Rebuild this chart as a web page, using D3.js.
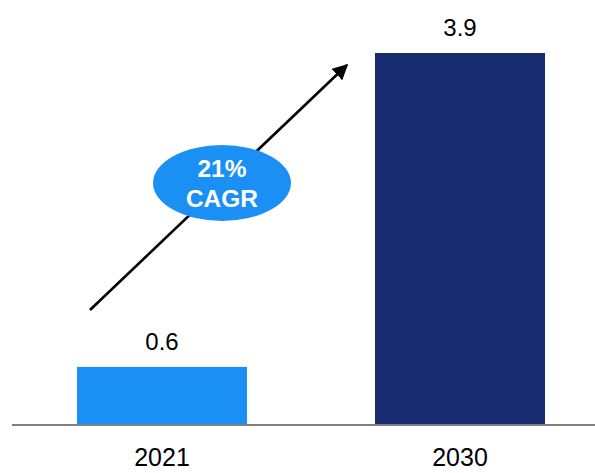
<!DOCTYPE html>
<html>
<head>
<meta charset="utf-8">
<script src="https://cdn.jsdelivr.net/npm/d3@7"></script>
<style>
  html, body { margin: 0; padding: 0; background: #fff; }
  svg { display: block; font-family: "Liberation Sans", Arial, sans-serif; }
</style>
</head>
<body>
<svg id="chart" width="595" height="473"></svg>
<script>
// Market size by year
const years = ["2021", "2030"];
const values = [0.6, 3.9];
const barColors = ["#1A90F4", "#172C70"];
const cagrLines = ["21%", "CAGR"];

const svg = d3.select("#chart");
const baseY = 424;

const x = d3.scaleBand()
  .domain(years)
  .range([13, 609])
  .paddingInner(0.4295)
  .paddingOuter(0.2148);

const y = d3.scaleLinear()
  .domain([0, 3.9])
  .range([baseY, 53]);

// bars
svg.selectAll("rect.bar")
  .data(years)
  .join("rect")
  .attr("class", "bar")
  .attr("x", d => x(d))
  .attr("width", x.bandwidth())
  .attr("y", (d, i) => y(values[i]))
  .attr("height", (d, i) => baseY - y(values[i]))
  .attr("fill", (d, i) => barColors[i]);

// value labels
svg.selectAll("text.val")
  .data(years)
  .join("text")
  .attr("class", "val")
  .attr("x", d => x(d) + x.bandwidth() / 2)
  .attr("y", (d, i) => y(values[i]) - 17)
  .attr("text-anchor", "middle")
  .attr("font-size", 24)
  .attr("fill", "#000")
  .text((d, i) => values[i].toFixed(1));

// baseline axis
const axis = d3.axisBottom(x).tickSize(0).tickPadding(0);
const gAxis = svg.append("g").attr("transform", `translate(0,${baseY})`).call(axis);
gAxis.select(".domain").remove();
gAxis.selectAll("text")
  .attr("font-size", 25)
  .attr("font-family", "Liberation Sans, Arial, sans-serif")
  .attr("fill", "#000")
  .attr("dy", null)
  .attr("y", 42);
svg.append("line")
  .attr("x1", 12).attr("x2", 595)
  .attr("y1", baseY + 1).attr("y2", baseY + 1)
  .attr("stroke", "#808080")
  .attr("stroke-width", 2);

// growth arrow
svg.append("defs").append("marker")
  .attr("id", "head")
  .attr("viewBox", "0 0 10 10")
  .attr("refX", 9).attr("refY", 5)
  .attr("markerWidth", 6).attr("markerHeight", 6)
  .attr("markerUnits", "strokeWidth")
  .attr("orient", "auto")
  .append("path")
  .attr("d", "M0,0 L10,5 L0,10 Z")
  .attr("fill", "#000");

svg.append("line")
  .attr("x1", 90).attr("y1", 310)
  .attr("x2", 347).attr("y2", 65)
  .attr("stroke", "#000")
  .attr("stroke-width", 2.6)
  .attr("marker-end", "url(#head)");

// CAGR bubble
svg.append("ellipse")
  .attr("cx", 222).attr("cy", 183)
  .attr("rx", 69).attr("ry", 38)
  .attr("fill", "#1A90F4");

svg.selectAll("text.cagr")
  .data(cagrLines)
  .join("text")
  .attr("class", "cagr")
  .attr("x", 222)
  .attr("y", (d, i) => 177 + i * 30)
  .attr("text-anchor", "middle")
  .attr("font-size", 24.5)
  .attr("font-weight", "bold")
  .attr("fill", "#fff")
  .text(d => d);
</script>
</body>
</html>
